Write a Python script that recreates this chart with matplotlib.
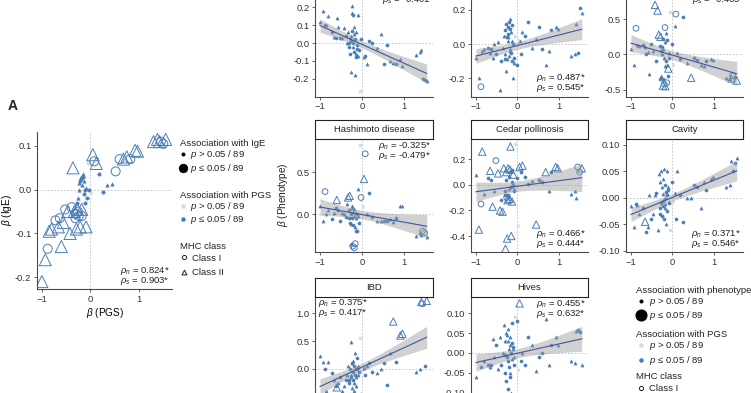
import numpy as np
import matplotlib
matplotlib.use("Agg")
import matplotlib.pyplot as plt
from matplotlib.lines import Line2D
from matplotlib.ticker import FormatStrFormatter

# ---------------- data ----------------

# beta of each HLA allele on the PGS, shared by all panels
allele_x = [-1.00, -0.93, -0.88, -0.85, -0.80, -0.72, -0.66, -0.63, -0.60, -0.56,
            -0.52, -0.47, -0.42, -0.39, -0.36, -0.33, -0.31, -0.29, -0.28, -0.27,
            -0.26, -0.25, -0.24, -0.23, -0.22, -0.21, -0.20, -0.19, -0.18, -0.17,
            -0.16, -0.15, -0.14, -0.13, -0.12, -0.10, -0.08, -0.05, -0.02, 0.02,
            0.05, 0.08, 0.12, 0.18, 0.25, 0.35, 0.45, 0.52, 0.60, 0.68,
            0.75, 0.82, 0.92, 0.97, 1.30, 1.38, 1.45, 1.50, 1.55, -0.30,
            -0.24, -0.18, -0.11, -0.09, 1.42]
# MHC class (1 = class I, 2 = class II)
allele_class = [2, 2, 1, 2, 2, 1, 2, 1, 2, 2,
                1, 2, 2, 1, 2, 2, 1, 2, 1, 2,
                1, 2, 1, 2, 1, 2, 1, 2, 1, 2,
                1, 2, 1, 2, 1, 2, 1, 1, 1, 2,
                2, 1, 2, 1, 1, 2, 2, 1, 1, 2,
                2, 1, 2, 2, 2, 2, 1, 1, 2, 1,
                2, 2, 1, 2, 2]
# alleles NOT significant with the PGS
pgs_nonsig = [37, 39]

# panel A: beta on IgE
ige_y = [-0.21, -0.16, -0.135, -0.095, -0.09, -0.07, -0.085, -0.065, -0.13, -0.075,
         -0.045, -0.05, -0.10, -0.04, 0.05, -0.05, -0.065, -0.09, -0.03, -0.045,
         -0.05, -0.02, -0.06, 0.0, 0.02, -0.085, 0.025, 0.03, -0.06, 0.01,
         0.03, 0.035, -0.01, 0.02, -0.03, 0.005, -0.02, 0.06, 0.0, -0.005,
         0.08, 0.065, 0.06, 0.035, -0.005, 0.01, 0.012, 0.042, 0.07, 0.07,
         0.075, 0.07, 0.09, 0.088, 0.11, 0.115, 0.11, 0.105, 0.115, -0.055,
         0.015, -0.045, 0.0, -0.085, 0.11]
ige_big = [0, 1, 2, 3, 4, 5, 6, 7, 8, 9, 10, 11, 12, 13, 14, 15, 16, 17, 19, 20,
           22, 25, 28, 40, 41, 42, 47, 48, 49, 50, 51, 52, 53, 54, 55, 56, 57, 58,
           59, 61, 63, 64]

# panels B (beta on phenotype)
top1_y = [0.12, 0.18, 0.10, 0.10, 0.15, 0.06, 0.035, 0.03, 0.14, 0.09,
          0.03, 0.03, 0.085, 0.04, 0.0, 0.06, -0.02, 0.03, -0.06, -0.16,
          0.01, 0.04, 0.07, 0.17, 0.16, -0.02, 0.0, 0.05, -0.05, -0.18,
          0.02, 0.06, -0.08, -0.06, -0.01, 0.16, -0.04, -0.27, 0.02, -0.07,
          -0.08, -0.07, -0.12, 0.01, 0.0, -0.03, 0.05, -0.12, -0.01, -0.10,
          -0.11, -0.12, -0.09, -0.13, -0.065, -0.05, -0.20, -0.21, -0.215, 0.0,
          0.21, 0.09, -0.035, -0.07, -0.04]
top1_big = []

top2_y = [-0.08, -0.20, -0.25, -0.04, -0.03, -0.02, -0.05, -0.03, -0.08, 0.0,
          -0.06, 0.01, -0.27, -0.10, -0.02, 0.05, 0.08, -0.06, 0.12, -0.16,
          0.04, -0.09, 0.10, 0.02, 0.06, -0.07, 0.13, -0.03, 0.09, 0.15,
          -0.05, 0.07, -0.10, 0.02, 0.11, -0.20, -0.08, 0.05, -0.12, 0.03,
          0.02, -0.06, 0.07, 0.05, 0.13, -0.02, 0.03, 0.10, -0.03, -0.12,
          -0.04, 0.08, 0.10, 0.09, -0.07, -0.06, -0.05, 0.21, 0.18, -0.09,
          0.04, -0.04, 0.0, -0.11, 0.12]
top2_big = [2]

top3_y = [0.07, -0.15, 0.37, 0.13, 0.12, 0.13, 0.10, 0.0, 0.03, -0.28,
          0.15, 0.05, 0.70, -0.10, 0.62, 0.28, 0.12, 0.25, 0.05, -0.30,
          0.10, 0.0, -0.35, -0.44, 0.22, -0.05, -0.42, 0.18, 0.38, -0.45,
          -0.10, 0.30, -0.40, -0.15, 0.20, -0.20, -0.05, 0.60, 0.15, -0.13,
          0.40, 0.57, 0.02, -0.06, 0.53, -0.12, -0.33, -0.05, -0.08, -0.15,
          -0.16, -0.10, -0.06, -0.08, -0.33, -0.35, -0.30, -0.32, -0.37, -0.35,
          0.08, -0.17, -0.30, 0.02, -0.34]
top3_big = [2, 12, 14, 15, 17, 23, 26, 28, 29, 32, 35, 41, 46, 56, 58, 64]

hashi_y = [0.10, -0.08, 0.27, 0.0, 0.05, -0.06, 0.02, 0.08, 0.17, 0.05,
           -0.08, 0.02, 0.0, -0.03, 0.12, 0.20, 0.05, 0.22, -0.10, -0.35,
           0.0, -0.12, -0.05, 0.10, -0.38, 0.03, -0.13, 0.06, -0.40, -0.15,
           -0.35, 0.02, -0.20, -0.05, 0.0, 0.30, -0.10, 0.83, 0.20, 0.10,
           0.42, 0.72, 0.0, 0.25, -0.03, -0.08, -0.08, -0.08, -0.08, -0.06,
           -0.09, -0.05, 0.10, 0.10, -0.26, -0.22, -0.20, -0.22, -0.27, -0.05,
           0.08, -0.02, -0.20, -0.02, -0.25]
hashi_big = [2, 8, 15, 17, 24, 28, 30, 38, 40, 41, 56, 57]

cedar_y = [0.08, -0.35, -0.15, 0.26, -0.07, 0.05, 0.11, 0.04, -0.17, -0.05,
           0.19, 0.09, -0.20, -0.12, -0.21, 0.13, -0.05, -0.50, 0.04, 0.10,
           -0.10, -0.42, -0.08, 0.13, -0.12, -0.03, 0.06, -0.11, 0.10, 0.30,
           -0.02, -0.40, 0.12, -0.13, 0.02, 0.08, -0.05, 0.32, 0.05, -0.31,
           0.14, 0.10, 0.15, 0.06, 0.01, 0.03, -0.31, 0.04, 0.02, 0.10,
           -0.05, 0.10, 0.14, 0.13, -0.07, -0.05, 0.14, 0.10, 0.13, -0.08,
           -0.12, 0.12, 0.0, -0.03, -0.10]
cedar_big = [1, 2, 3, 6, 8, 10, 11, 12, 14, 15, 17, 19, 20, 21, 23, 24, 27, 29,
             31, 33, 35, 40, 42, 46, 49, 52, 53, 56, 57, 58, 60, 61]

cavity_y = [-0.015, -0.055, -0.012, -0.013, -0.03, -0.02, -0.045, -0.065, -0.055, 0.005,
            -0.04, -0.03, 0.005, 0.01, -0.06, 0.045, -0.02, 0.03, -0.01, 0.05,
            -0.035, 0.02, -0.005, 0.035, -0.015, 0.055, -0.04, 0.0, 0.025, -0.02,
            0.012, -0.05, 0.005, 0.05, -0.025, 0.02, -0.01, -0.06, 0.03, -0.005,
            0.01, -0.04, 0.05, 0.005, -0.045, 0.0, 0.0, 0.025, 0.02, -0.02,
            0.03, 0.015, 0.035, 0.04, 0.02, 0.025, 0.05, 0.065, 0.075, -0.03,
            0.008, -0.012, 0.015, -0.008, 0.07]
cavity_big = [6]

ibd_y = [0.23, 0.12, 0.0, -0.40, 0.13, -0.07, -0.20, -0.30, -0.33, -0.25,
         -0.15, -0.40, -0.30, -0.20, -0.10, 0.05, -0.25, -0.45, 0.0, 0.48,
         -0.15, -0.10, 0.10, -0.35, -0.05, 0.15, -0.20, -0.40, 0.05, 0.28,
         -0.10, -0.30, 0.0, -0.15, 0.20, 0.05, -0.05, 0.55, -0.45, 0.0,
         0.02, -0.10, 0.05, 0.10, -0.05, -0.08, 0.0, 0.10, -0.28, 0.28,
         0.85, 0.12, 0.60, 0.63, -0.05, 0.0, 1.17, 0.05, 1.22, -0.20,
         0.10, -0.25, 0.0, -0.10, 1.20]
ibd_big = [8, 50, 52, 53, 56, 58, 64]

hives_y = [-0.06, -0.11, -0.035, -0.115, -0.02, -0.03, -0.035, -0.03, 0.035, -0.01,
           0.02, -0.04, 0.04, -0.03, 0.0, 0.07, -0.05, 0.03, -0.07, 0.05,
           -0.01, 0.045, -0.02, 0.06, -0.09, 0.01, -0.035, 0.02, -0.06, 0.04,
           0.0, -0.10, 0.025, -0.015, 0.075, 0.01, -0.03, 0.09, 0.08, -0.04,
           0.125, -0.02, 0.0, -0.03, 0.04, 0.02, -0.045, -0.01, 0.0, 0.085,
           -0.03, 0.02, 0.04, 0.02, -0.02, -0.025, 0.057, 0.053, -0.03, -0.005,
           0.03, -0.05, 0.015, -0.01, 0.055]
hives_big = [40]

# correlation labels (pearson, spearman)
rho_ige = ("0.824*", "0.903*")
rho_top1 = (None, "-0.401")
rho_top2 = ("0.487*", "0.545*")
rho_top3 = (None, "-0.465")
rho_hashi = ("-0.325*", "-0.479*")
rho_cedar = ("0.466*", "0.444*")
rho_cavity = ("0.371*", "0.546*")
rho_ibd = ("0.375*", "0.417*")
rho_hives = ("0.455*", "0.632*")

# ---------------- style ----------------

W, H = 751, 393
BLUE = "#4a7db5"
LIGHT = "#d3dce6"
LINE = "#3d57a3"
SPINE = "#4a4a4a"
ZERO = "#bdbdbd"
FS = 6.8

plt.rcParams["font.family"] = ["Liberation Sans", "DejaVu Sans"]
plt.rcParams["mathtext.fontset"] = "custom"
plt.rcParams["mathtext.rm"] = "Liberation Sans"
plt.rcParams["mathtext.it"] = "Liberation Sans:italic"
plt.rcParams["font.size"] = FS
plt.rcParams["text.color"] = "#222222"

fig = plt.figure(figsize=(W / 100, H / 100), dpi=100)


def px_axes(x0, y0, x1, y1):
    # pixel box (top-left origin) -> figure axes
    return fig.add_axes([x0 / W, 1 - y1 / H, (x1 - x0) / W, (y1 - y0) / H])


def style_axes(ax, xlim, ylim, yticks, yfmt):
    ax.set_xlim(*xlim)
    ax.set_ylim(*ylim)
    ax.set_xticks([-1, 0, 1])
    ax.set_yticks(yticks)
    ax.yaxis.set_major_formatter(FormatStrFormatter(yfmt))
    for s in ["top", "right"]:
        ax.spines[s].set_visible(False)
    for s in ["left", "bottom"]:
        ax.spines[s].set_color(SPINE)
        ax.spines[s].set_linewidth(0.8)
    ax.tick_params(length=2.5, width=0.6, color=SPINE, pad=1.5,
                   labelsize=FS, labelcolor="#333333")
    ax.axhline(0, color=ZERO, lw=0.6, ls=(0, (2, 2)), zorder=0)
    ax.axvline(0, color=ZERO, lw=0.6, ls=(0, (2, 2)), zorder=0)
    ax.patch.set_alpha(0)


def draw_points(ax, y, big, s_small, s_big_o, s_big_t):
    x = np.array(allele_x)
    y = np.array(y)
    cls = np.array(allele_class)
    is_big = np.isin(np.arange(len(x)), big)
    light = np.isin(np.arange(len(x)), pgs_nonsig)
    for c, mk in [(1, "o"), (2, "^")]:
        for lt, col in [(True, LIGHT), (False, BLUE)]:
            m = (cls == c) & (light == lt)
            sm = m & ~is_big
            bg = m & is_big
            ax.scatter(x[sm], y[sm], s=s_small, marker=mk, facecolors=col,
                       edgecolors=col, linewidths=0.4, zorder=2)
            ax.scatter(x[bg], y[bg], s=s_big_t if mk == "^" else s_big_o,
                       marker=mk, facecolors="none", edgecolors=col,
                       linewidths=0.7, zorder=2)


def fit_band(ax, y):
    x = np.array(allele_x)
    y = np.array(y)
    b, a = np.polyfit(x, y, 1)
    xs = np.linspace(x.min(), x.max(), 100)
    n = len(x)
    s = np.sqrt(np.sum((y - (a + b * x)) ** 2) / (n - 2))
    sxx = np.sum((x - x.mean()) ** 2)
    se = s * np.sqrt(1 / n + (xs - x.mean()) ** 2 / sxx)
    fit = a + b * xs
    ax.fill_between(xs, fit - 1.99 * se, fit + 1.99 * se, color="#9a9a9a",
                    alpha=0.45, lw=0, zorder=3)
    ax.plot(xs, fit, color=LINE, lw=0.8, zorder=4)


def rho_label(ax, rho, where):
    rn, rs = rho
    pt = 0.72  # points per pixel
    if where == "tr":
        xy, ha, offs = (1, 1), "right", [(-2, -7), (-2, -17)]
    elif where == "tl":
        xy, ha, offs = (0, 1), "left", [(3, -6), (3, -16)]
    elif where == "br":
        xy, ha, offs = (1, 0), "right", [(-2, 18), (-2, 8)]
    for txt, sub, off in [(rn, "n", offs[0]), (rs, "s", offs[1])]:
        if txt is None:
            continue
        ax.annotate(r"$\rho_%s$ = %s" % (sub, txt), xy=xy, xycoords="axes fraction",
                    xytext=(off[0] * pt, off[1] * pt), textcoords="offset points",
                    ha=ha, va="center", fontsize=FS, zorder=6)


def strip(x0, x1, y0, y1, title):
    sa = px_axes(x0, y0, x1, y1)
    sa.set_xticks([])
    sa.set_yticks([])
    for sp in sa.spines.values():
        sp.set_color("#222222")
        sp.set_linewidth(0.8)
    sa.text(0.5, 0.5, title, ha="center", va="center", fontsize=FS,
            transform=sa.transAxes)


# ---------------- panel A ----------------

axA = px_axes(37, 132, 172, 289)
style_axes(axA, (-1.1, 1.68), (-0.227, 0.132), [-0.2, -0.1, 0.0, 0.1], "%.1f")
draw_points(axA, ige_y, ige_big, 6, 42, 75)
rho_label(axA, rho_ige, "br")
axA.set_xlabel(r"$\beta$ (PGS)", fontsize=FS + 0.4, labelpad=1.5)
axA.set_ylabel(r"$\beta$ (IgE)", fontsize=FS + 0.4, labelpad=1)
fig.text(8 / W, 1 - 106 / H, "A", fontsize=10, fontweight="bold",
         ha="left", va="center")

# ---------------- panels B ----------------

cols = [(315, 433), (471, 588), (626, 743)]
rows = [(-17, 96.5), (139, 252), (297, 410)]

panels = [
    (0, 0, None, top1_y, top1_big, (-0.3, 0.337), [-0.2, -0.1, 0.0, 0.1, 0.2, 0.3], "%.1f", rho_top1, "tr"),
    (0, 1, None, top2_y, top2_big, (-0.307, 0.358), [-0.2, 0.0, 0.2], "%.1f", rho_top2, "br"),
    (0, 2, None, top3_y, top3_big, (-0.595, 1.01), [-0.5, 0.0, 0.5], "%.1f", rho_top3, "tr"),
    (1, 0, "Hashimoto disease", hashi_y, hashi_big, (-0.449, 0.896), [0.0, 0.5], "%.1f", rho_hashi, "tr"),
    (1, 1, "Cedar pollinosis", cedar_y, cedar_big, (-0.525, 0.359), [-0.4, -0.2, 0.0, 0.2], "%.1f", rho_cedar, "br"),
    (1, 2, "Cavity", cavity_y, cavity_big, (-0.102, 0.111), [-0.10, -0.05, 0.0, 0.05, 0.10], "%.2f", rho_cavity, "br"),
    (2, 0, "IBD", ibd_y, ibd_big, (-0.736, 1.29), [-0.5, 0.0, 0.5, 1.0], "%.1f", rho_ibd, "tl"),
    (2, 1, "Hives", hives_y, hives_big, (-0.144, 0.141), [-0.10, -0.05, 0.0, 0.05, 0.10], "%.2f", rho_hives, "tr"),
]

for r, c, title, y, big, ylim, yt, fmt, rho, where in panels:
    x0, x1 = cols[c]
    y0, y1 = rows[r]
    ax = px_axes(x0, y0, x1, y1)
    style_axes(ax, (-1.12, 1.7), ylim, yt, fmt)
    draw_points(ax, y, big, 5, 17, 28)
    fit_band(ax, y)
    rho_label(ax, rho, where)
    if title is not None:
        strip(x0, x1, y0 - 19, y0, title)

fig.text(283 / W, 1 - 195 / H, r"$\beta$ (Phenotype)", rotation=90,
         ha="center", va="center", fontsize=FS + 0.4)

# ---------------- legends ----------------


def dot(ms, color, mk="o", fill=True):
    return Line2D([], [], ls="none", marker=mk, ms=ms, color=color,
                  markerfacecolor=color if fill else "none", markeredgewidth=0.7)


def legend_group(title, handles, labels, x_px, y_px, hl, spacing, sep=0):
    leg = fig.legend(handles, labels, title=title, loc="upper left",
                     bbox_to_anchor=(x_px / W, 1 - y_px / H), frameon=False,
                     borderpad=0, borderaxespad=0, handlelength=hl,
                     handletextpad=0.4, labelspacing=spacing, alignment="left",
                     fontsize=FS, title_fontsize=FS)
    leg._legend_box.sep = sep


p_gt = r"$p$ > 0.05 / 89"
p_le = r"$p$ ≤ 0.05 / 89"

legend_group("Association with IgE", [dot(2.2, "black"), dot(6, "black")],
             [p_gt, p_le], 180, 139, 0.7, 0.1)
legend_group("Association with PGS", [dot(2.5, LIGHT), dot(2.5, BLUE)],
             [p_gt, p_le], 180, 191, 0.7, 0.05)
legend_group("MHC class", [dot(3, "#222222", "o", False), dot(3.5, "#222222", "^", False)],
             ["Class I", "Class II"], 180, 242, 0.9, 0.55, sep=2)

legend_group("Association with phenotype", [dot(2.2, "black"), dot(8, "black")],
             [p_gt, p_le], 636, 286, 1.0, 0.1)
legend_group("Association with PGS", [dot(2.5, LIGHT), dot(2.5, BLUE)],
             [p_gt, p_le], 636, 330, 1.0, 0.25)
legend_group("MHC class", [dot(3, "#222222", "o", False), dot(3.5, "#222222", "^", False)],
             ["Class I", "Class II"], 636, 372, 1.0, 0.35, sep=2.5)

fig.savefig("out.png", dpi=100)
